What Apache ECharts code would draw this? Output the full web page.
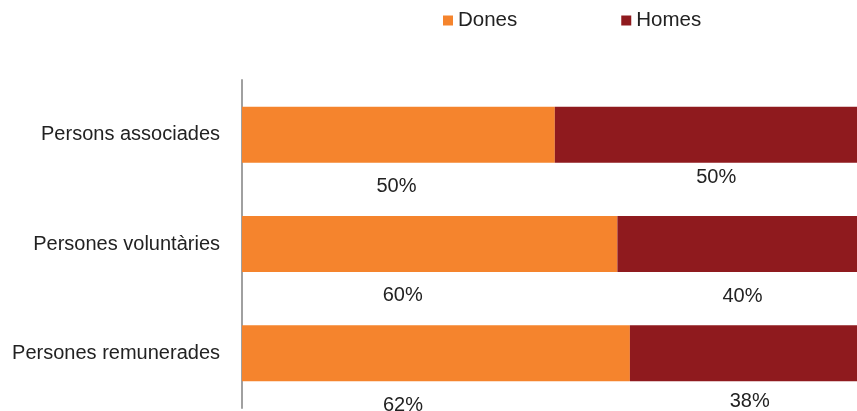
<!DOCTYPE html>
<html><head><meta charset="utf-8">
<script src="https://cdn.jsdelivr.net/npm/echarts@6/dist/echarts.min.js"></script>
<style>html,body{margin:0;padding:0;background:#fff}#c{width:857px;height:411px}</style>
</head><body><div id="c"></div>
<script>
const categories = ["Persons associades", "Persones voluntàries", "Persones remunerades"];
const seriesNames = ["Dones", "Homes"];
const dones = [50, 60, 62];
const homes = [50, 40, 38];

const font = "'Liberation Sans', Arial, sans-serif";
const labelOffsetsDones = [[-2, 0], [-27, -1], [-33, 0]];
const labelOffsetsHomes = [[5, -9], [0, 0], [1, -4]];

function build(vals, offs) {
  return vals.map((v, i) => ({ value: v, label: { offset: offs[i] } }));
}

const chart = echarts.init(document.getElementById('c'), null, { renderer: 'canvas' });
chart.setOption({
  animation: false,
  textStyle: { fontFamily: font },
  legend: {
    top: 5, left: 438,
    itemWidth: 10, itemHeight: 10, itemGap: 104,
    icon: 'rect',
    textStyle: { fontSize: 20.5, color: '#222', fontFamily: font },
    data: seriesNames
  },
  // the original chart's 100% end lies just beyond the right edge of the picture
  grid: { left: 242, right: 0, top: 80, bottom: 3, containLabel: false },
  xAxis: {
    type: 'value', min: 0, max: 98.3,
    show: false
  },
  yAxis: {
    type: 'category', inverse: true, data: categories,
    axisLine: { show: true, lineStyle: { color: '#a0a0a0', width: 2 } },
    axisTick: { show: false },
    axisLabel: { fontSize: 20, color: '#222', margin: 22, fontFamily: font }
  },
  series: [
    {
      name: seriesNames[0], type: 'bar', stack: 'a', barWidth: 56, clip: false,
      itemStyle: { color: '#f5842d' },
      label: { show: true, position: 'bottom', distance: 14, formatter: '{c}%', fontSize: 20, color: '#222', fontFamily: font },
      data: build(dones, labelOffsetsDones)
    },
    {
      name: seriesNames[1], type: 'bar', stack: 'a', barWidth: 56, clip: false,
      itemStyle: { color: '#8f1a1e' },
      label: { show: true, position: 'bottom', distance: 14, formatter: '{c}%', fontSize: 20, color: '#222', fontFamily: font },
      data: build(homes, labelOffsetsHomes)
    }
  ]
});
</script></body></html>
